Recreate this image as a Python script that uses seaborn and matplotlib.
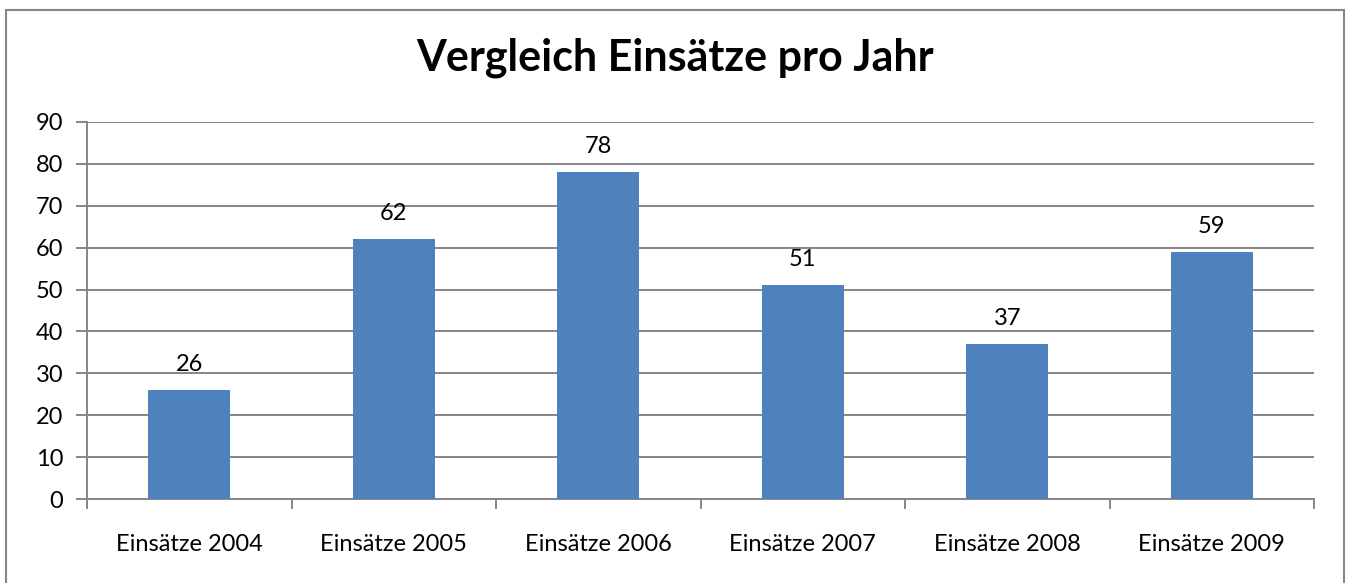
import numpy as np
import pandas as pd
import seaborn as sns
import matplotlib.pyplot as plt
from matplotlib.patches import Rectangle

jahre = ['Einsätze 2004', 'Einsätze 2005', 'Einsätze 2006', 'Einsätze 2007', 'Einsätze 2008', 'Einsätze 2009']
einsaetze = [26, 62, 78, 51, 37, 59]

df = pd.DataFrame({'Jahr': jahre, 'Einsaetze': einsaetze})

sns.set_style('white')
plt.rcParams['font.family'] = ['Lato', 'DejaVu Sans']
plt.rcParams['text.color'] = 'black'
plt.rcParams['xtick.labelcolor'] = 'black'
plt.rcParams['ytick.labelcolor'] = 'black'

fig = plt.figure(figsize=(13.51, 5.83), dpi=100)
ax = fig.add_axes([87/1351, 1 - 499/583, (1314 - 87)/1351, (499 - 122)/583])

sns.barplot(x='Jahr', y='Einsaetze', data=df, color='#4F81BD', saturation=1,
            width=0.4, linewidth=0, ax=ax, zorder=3)

ax.set_ylim(0, 90)
ax.set_xlim(-0.5, len(jahre) - 0.5)
ax.set_yticks(range(0, 91, 10))
ax.yaxis.grid(True, color='#868686', linewidth=1.4, zorder=0)
ax.set_axisbelow(True)
ax.set_xlabel('')
ax.set_ylabel('')

# Kategorie-Grenzen als Ticks wie in Excel
ax.set_xticks(np.arange(-0.5, len(jahre), 1.0), minor=True)
ax.tick_params(axis='x', which='minor', length=7, width=1.4, color='#868686', direction='out', bottom=True)
ax.tick_params(axis='x', which='major', length=0, labelsize=17, pad=25)
ax.tick_params(axis='y', length=8, width=1.4, color='#868686', direction='out', left=True, labelsize=17, pad=9)

for s in ['top', 'right']:
    ax.spines[s].set_visible(False)
for s in ['left', 'bottom']:
    ax.spines[s].set_color('#868686')
    ax.spines[s].set_linewidth(1.4)

for i, v in enumerate(einsaetze):
    ax.annotate(str(v), (i, v), xytext=(0, 11), textcoords='offset points',
                ha='center', va='bottom', fontsize=17)

fig.text(0.5, 1 - 58/583, 'Vergleich Einsätze pro Jahr', ha='center', va='center',
         fontsize=31, fontweight='bold')

fig.patches.append(Rectangle((6/1351, -0.05), (1344 - 6)/1351, 1.05 - 10/583,
                             transform=fig.transFigure, fill=False,
                             edgecolor='#868686', linewidth=1.5))

fig.savefig('out.png', dpi=100)
